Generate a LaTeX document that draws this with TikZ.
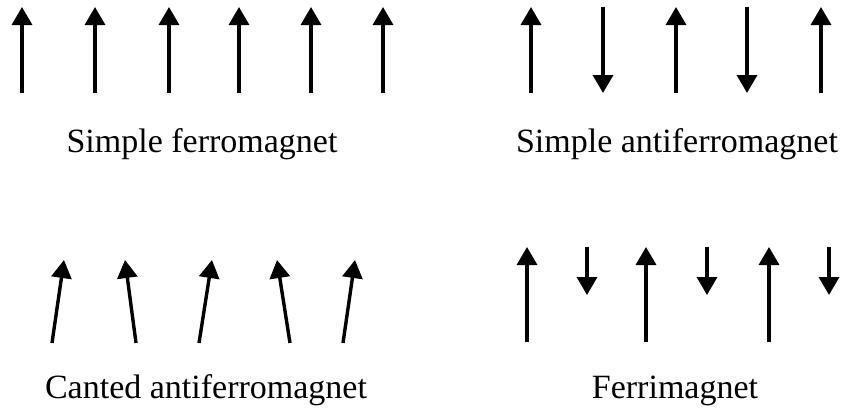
\documentclass[tikz,border=0pt]{standalone}
\usepackage{fontspec}
\setmainfont{Liberation Serif}
\usetikzlibrary{arrows.meta}

\begin{document}
\begin{tikzpicture}[
	x=1pt,y=-1pt,
	spin/.style={line width=3.4pt,-{Triangle[width=20pt,length=18pt]}},
	caption/.style={font=\fontsize{34}{40}\selectfont,anchor=base,inner sep=0pt},
]
\useasboundingbox (0,0) rectangle (848,413);

% simple ferromagnet
\foreach \x in {22,95,169,239,311,383}
    \draw[spin] (\x,93) -- (\x,7);
\node[caption] (ferro) at (202,152) {Simple ferromagnet};

% simple antiferromagnet
\foreach \x in {531,676,821}
    \draw[spin] (\x,93) -- (\x,7);
\foreach \x in {603,747}
    \draw[spin] (\x,7) -- (\x,93);
\node[caption] (antiferro) at (677,152) {Simple antiferromagnet};

% canted antiferromagnet
\foreach \x/\tx in {52/64,136/125,199/212,290/277,343/355}
    \draw[spin] (\x,343) -- (\tx,260);
\node[caption] (canted) at (206,398) {Canted antiferromagnet};

% ferrimagnet
\foreach \x in {527,646,769}
    \draw[spin] (\x,342) -- (\x,247);
\foreach \x in {587,707,829}
    \draw[spin] (\x,247) -- (\x,295);
\node[caption] (ferri) at (675,398) {Ferrimagnet};

\end{tikzpicture}
\end{document}
